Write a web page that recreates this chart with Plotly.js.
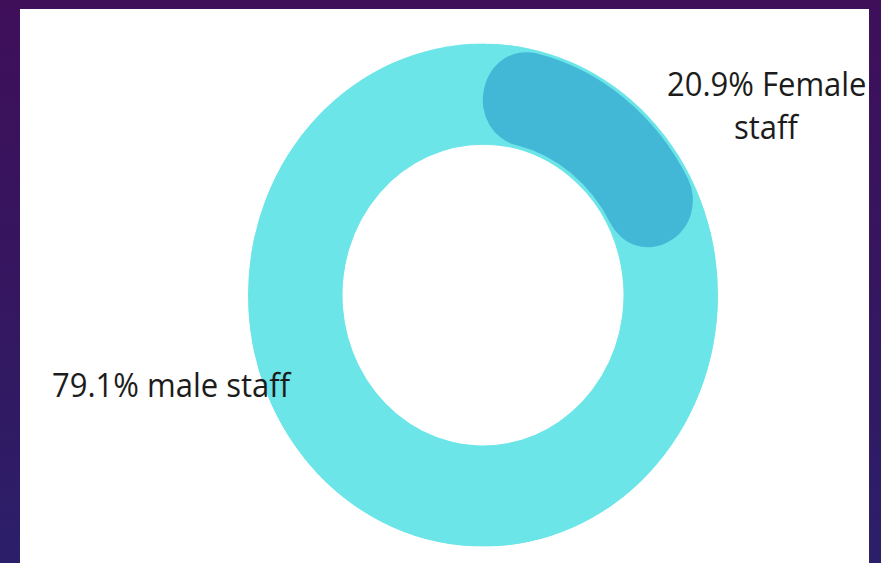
<!DOCTYPE html>
<html>
<head>
<meta charset="utf-8">
<script src="https://cdn.plot.ly/plotly-3.0.1.min.js"></script>
<style>
  html, body { margin: 0; padding: 0; width: 881px; height: 563px; overflow: hidden;
    background: linear-gradient(to bottom, #3f0f5a 0%, #35165f 50%, #2c1f6a 100%); }
  #chart { width: 881px; height: 526px; transform: scaleY(1.0703); transform-origin: 0 0; }
  #chart .main-svg path { stroke-linejoin: round !important; }
</style>
</head>
<body>
<div id="chart"></div>
<script>
// ---- data ----
const categories = ['Female staff', 'male staff'];
const shares = [20.9, 79.1];            // percent
const labelFemaleLine1 = shares[0] + '% Female';
const labelFemaleLine2 = 'staff';
const labelMale = shares[1] + '% male staff';

// ---- styling constants ----
const lightColor = '#6be5e8';
const darkColor = '#43b8d6';
const ringInner = 141, ringOuter = 235;
const bandCenter = 188, capRadius = 43;

// angular layout derived from data (clockwise from top)
const degPer = 360 / shares.reduce((a, b) => a + b, 0);
const widths = shares.map(v => v * degPer);
const centers = [];
let acc = 0;
widths.forEach(w => { centers.push(acc + w / 2); acc += w; });
const capDeg = Math.asin(capRadius / bandCenter) * 180 / Math.PI;

const ring = {
  type: 'barpolar',
  theta: centers,
  width: widths,
  base: categories.map(() => ringInner),
  r: categories.map(() => ringOuter - ringInner),
  marker: { color: lightColor, line: { color: lightColor, width: 1 } },
  hoverinfo: 'skip', showlegend: false
};
const femaleArc = {
  type: 'barpolar',
  theta: [centers[0]],
  width: [widths[0] - 2 * capDeg],
  base: [bandCenter - 1],
  r: [2],
  marker: { color: darkColor, line: { color: darkColor, width: capRadius * 2 } },
  hoverinfo: 'skip', showlegend: false
};

const font = { family: 'Open Sans, sans-serif', size: 31, color: '#1c1c1c' };
const layout = {
  width: 881, height: 526,
  margin: { l: 0, r: 0, t: 0, b: 0 },
  paper_bgcolor: 'rgba(0,0,0,0)',
  showlegend: false,
  shapes: [{ type: 'rect', xref: 'paper', yref: 'paper', x0: 0.0227, x1: 0.9864, y0: -0.01, y1: 0.984,
    fillcolor: '#ffffff', line: { width: 0 }, layer: 'below' }],
  polar: {
    domain: { x: [0.2815, 0.8150], y: [0.0291, 0.9226] },
    bgcolor: 'rgba(0,0,0,0)',
    radialaxis: { visible: false, range: [0, ringOuter] },
    angularaxis: { rotation: 90, direction: 'clockwise', showgrid: false, showline: false,
      showticklabels: false, ticks: '' }
  },
  annotations: [
    { text: labelMale, xref: 'paper', yref: 'paper', x: 0.0567, y: 0.318, xanchor: 'left', yanchor: 'middle',
      showarrow: false, font: font },
    { text: labelFemaleLine1, xref: 'paper', yref: 'paper', x: 0.8706, y: 0.852, xanchor: 'center', yanchor: 'middle',
      showarrow: false, font: font },
    { text: labelFemaleLine2, xref: 'paper', yref: 'paper', x: 0.8706, y: 0.775, xanchor: 'center', yanchor: 'middle',
      showarrow: false, font: font }
  ]
};
Plotly.newPlot('chart', [ring, femaleArc], layout, { staticPlot: true, displayModeBar: false });
</script>
</body>
</html>
